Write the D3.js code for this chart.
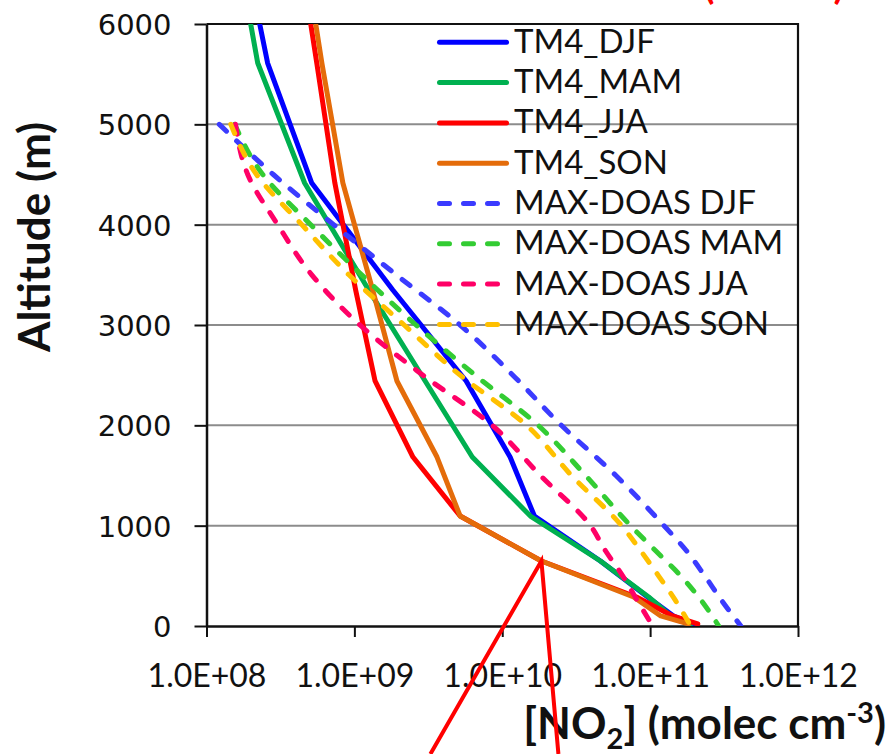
<!DOCTYPE html>
<html>
<head>
<meta charset="utf-8">
<script src="https://cdn.jsdelivr.net/npm/d3@7"></script>
<style>
  body { margin: 0; background: #fff; }
  svg { display: block; }
</style>
</head>
<body>
<svg id="chart" width="891" height="754"></svg>
<script>
// Altitude levels (m) of the TM4 model profiles
const tm4Alt = [6000, 5611, 4415, 3349, 2442, 1684, 1096, 648, 289, 100, 20];
// TM4 NO2 concentrations (molec cm-3) per season
const tm4DJF = [2.29e8, 2.59e8, 5.15e8, 1.82e9, 5.70e9, 1.13e10, 1.65e10, 4.61e10, 9.62e10, 1.44e11, 1.97e11];
const tm4MAM = [1.99e8, 2.22e8, 4.61e8, 1.25e9, 3.01e9, 6.27e9, 1.55e10, 4.61e10, 9.77e10, 1.38e11, 1.88e11];
const tm4JJA = [5.07e8, 5.57e8, 7.38e8, 1.02e9, 1.38e9, 2.49e9, 5.19e9, 1.84e10, 8.09e10, 1.42e11, 2.10e11];
const tm4SON = [5.48e8, 6.03e8, 8.36e8, 1.33e9, 1.94e9, 3.62e9, 5.19e9, 1.84e10, 7.73e10, 1.18e11, 1.82e11];

// Altitude grid (m) of the MAX-DOAS retrieved profiles
const doasAlt = [5000, 4500, 4000, 3500, 3000, 2500, 2000, 1500, 1000, 750, 500, 250, 0];
// MAX-DOAS NO2 concentrations (molec cm-3) per season
const doasDJF = [1.22e8, 2.83e8, 7.24e8, 1.92e9, 5.19e9, 1.18e10, 2.51e10, 5.87e10, 1.24e11, 1.76e11, 2.34e11, 3.06e11, 4.11e11];
const doasMAM = [1.55e8, 2.40e8, 5.07e8, 1.12e9, 2.61e9, 6.56e9, 1.75e10, 3.66e10, 7.38e10, 1.09e11, 1.61e11, 2.23e11, 2.91e11];
const doasJJA = [1.57e8, 1.90e8, 3.03e8, 5.15e8, 1.09e9, 2.91e9, 8.55e9, 1.81e10, 3.95e10, 4.99e10, 6.52e10, 8.22e10, 1.04e11];
const doasSON = [1.46e8, 2.18e8, 4.41e8, 9.18e8, 2.17e9, 5.19e9, 1.46e10, 2.94e10, 6.41e10, 8.63e10, 1.14e11, 1.49e11, 1.88e11];

// Axis ticks and labels
const xTicks = [1e8, 1e9, 1e10, 1e11, 1e12];
const xTickLabels = ["1.0E+08", "1.0E+09", "1.0E+10", "1.0E+11", "1.0E+12"];
const yTicks = [0, 1000, 2000, 3000, 4000, 5000, 6000];
const yTickLabels = ["0", "1000", "2000", "3000", "4000", "5000", "6000"];

// Series names
const seriesNames = ["TM4_DJF", "TM4_MAM", "TM4_JJA", "TM4_SON",
                     "MAX-DOAS DJF", "MAX-DOAS MAM", "MAX-DOAS JJA", "MAX-DOAS SON"];

const series = [
  { name: seriesNames[0], alt: tm4Alt, val: tm4DJF, color: "#0000ff", dashed: false },
  { name: seriesNames[1], alt: tm4Alt, val: tm4MAM, color: "#00b050", dashed: false },
  { name: seriesNames[2], alt: tm4Alt, val: tm4JJA, color: "#ff0000", dashed: false },
  { name: seriesNames[3], alt: tm4Alt, val: tm4SON, color: "#e46c0a", dashed: false },
  { name: seriesNames[4], alt: doasAlt, val: doasDJF, color: "#3b3bff", dashed: true },
  { name: seriesNames[5], alt: doasAlt, val: doasMAM, color: "#33cc33", dashed: true },
  { name: seriesNames[6], alt: doasAlt, val: doasJJA, color: "#ff0066", dashed: true },
  { name: seriesNames[7], alt: doasAlt, val: doasSON, color: "#ffc000", dashed: true }
];

const svg = d3.select("#chart");
const plot = { left: 206.5, right: 798, top: 24, bottom: 626 };

const x = d3.scaleLog().domain([1e8, 1e12]).range([plot.left, plot.right]);
const y = d3.scaleLinear().domain([0, 6000]).range([plot.bottom, plot.top]);

const labelFont = "Lato, 'Open Sans', sans-serif";
const dash = "10,14";

svg.append("defs").append("clipPath").attr("id", "plot-clip")
  .append("rect")
  .attr("x", plot.left).attr("y", plot.top)
  .attr("width", plot.right - plot.left).attr("height", plot.bottom - plot.top);

// Horizontal gridlines
svg.append("g")
  .selectAll("line")
  .data(yTicks.filter(t => t > 0 && t < 6000))
  .join("line")
  .attr("x1", plot.left).attr("x2", plot.right)
  .attr("y1", d => y(d)).attr("y2", d => y(d))
  .attr("stroke", "#8c8c8c").attr("stroke-width", 2);

// Top and right frame
svg.append("path")
  .attr("d", `M${plot.left},${plot.top}H${plot.right}V${plot.bottom}`)
  .attr("fill", "none").attr("stroke", "#111").attr("stroke-width", 2.2);

// Left axis
const yAxis = svg.append("g")
  .attr("transform", `translate(${plot.left},0)`)
  .call(d3.axisLeft(y).tickValues(yTicks).tickSize(12).tickSizeOuter(0).tickFormat((d, i) => yTickLabels[i]));
yAxis.select(".domain").attr("stroke", "#111").attr("stroke-width", 2.5);
yAxis.selectAll(".tick line").attr("stroke", "#111").attr("stroke-width", 2);
yAxis.selectAll(".tick text")
  .attr("x", -35)
  .attr("dy", "0.36em")
  .attr("fill", "#111")
  .style("font-family", "'DejaVu Sans', Verdana, sans-serif")
  .style("font-size", "29px");

// Bottom axis
const xAxis = svg.append("g")
  .attr("transform", `translate(0,${plot.bottom})`)
  .call(d3.axisBottom(x).tickValues(xTicks).tickSize(11).tickSizeOuter(0).tickFormat((d, i) => xTickLabels[i]));
xAxis.select(".domain").attr("stroke", "#111").attr("stroke-width", 2.5);
xAxis.selectAll(".tick text")
  .attr("y", 61).attr("dy", 0)
  .attr("fill", "#111")
  .style("font-family", labelFont)
  .style("font-size", "32px");
xAxis.selectAll(".tick line").attr("stroke", "#111").attr("stroke-width", 2);

// Profiles
const line = d3.line()
  .x(d => x(d[0]))
  .y(d => y(d[1]));

const lines = svg.append("g").attr("clip-path", "url(#plot-clip)");
series.forEach(s => {
  const pts = s.val.map((v, i) => [v, s.alt[i]]);
  lines.append("path")
    .datum(pts)
    .attr("d", line.curve(s.dashed ? d3.curveMonotoneY : d3.curveLinear))
    .attr("fill", "none")
    .attr("stroke", s.color)
    .attr("stroke-width", 5)
    .attr("stroke-linejoin", "round")
    .attr("stroke-linecap", "round")
    .attr("stroke-dasharray", s.dashed ? dash : null);
});

// Legend
const legend = svg.append("g").attr("transform", "translate(0,42.3)");
const rowH = 40.3;
series.forEach((s, i) => {
  const row = legend.append("g").attr("transform", `translate(0,${i * rowH})`);
  row.append("line")
    .attr("x1", 439.5).attr("x2", s.dashed ? 497.5 : 506.5)
    .attr("y1", 0).attr("y2", 0)
    .attr("stroke", s.color).attr("stroke-width", 5)
    .attr("stroke-linecap", "round")
    .attr("stroke-dasharray", s.dashed ? dash : null);
  row.append("text")
    .attr("x", 514).attr("y", 10.5)
    .attr("fill", "#111")
    .style("font-family", labelFont)
    .style("font-size", "33px")
    .text(s.name);
});

// Axis titles
svg.append("text")
  .attr("transform", "translate(50,237) rotate(-90)")
  .attr("text-anchor", "middle")
  .attr("fill", "#111")
  .style("font-family", labelFont)
  .style("font-weight", "bold")
  .style("font-size", "44px")
  .text("Altitude (m)");

const xt = svg.append("text")
  .attr("x", 886).attr("y", 739)
  .attr("text-anchor", "end")
  .attr("fill", "#111")
  .style("font-family", labelFont)
  .style("font-weight", "bold")
  .style("font-size", "44px");
xt.append("tspan").text("[NO");
xt.append("tspan").attr("dy", 10).style("font-size", "29px").text("2");
xt.append("tspan").attr("dy", -10).text("] (molec cm");
xt.append("tspan").attr("dy", -16).style("font-size", "29px").text("-3");
xt.append("tspan").attr("dy", 16).text(")");

// Red heading along the top edge
svg.append("text")
  .attr("x", 704).attr("y", -1)
  .attr("fill", "#ff0000")
  .style("font-family", labelFont)
  .style("font-weight", "bold")
  .style("font-size", "38px")
  .attr("textLength", 140)
  .text("(Hefei)");

// Red callout pointing at the TM4_JJA profile at 648 m
const anchor = [x(tm4JJA[7]), y(tm4Alt[7])];
svg.append("path")
  .attr("d", `M${anchor[0] - 111},754L${anchor[0]},${anchor[1]}L${anchor[0] + 17},754`)
  .attr("fill", "none")
  .attr("stroke", "#ff0000")
  .attr("stroke-width", 4)
  .attr("stroke-linejoin", "miter");
</script>
</body>
</html>
